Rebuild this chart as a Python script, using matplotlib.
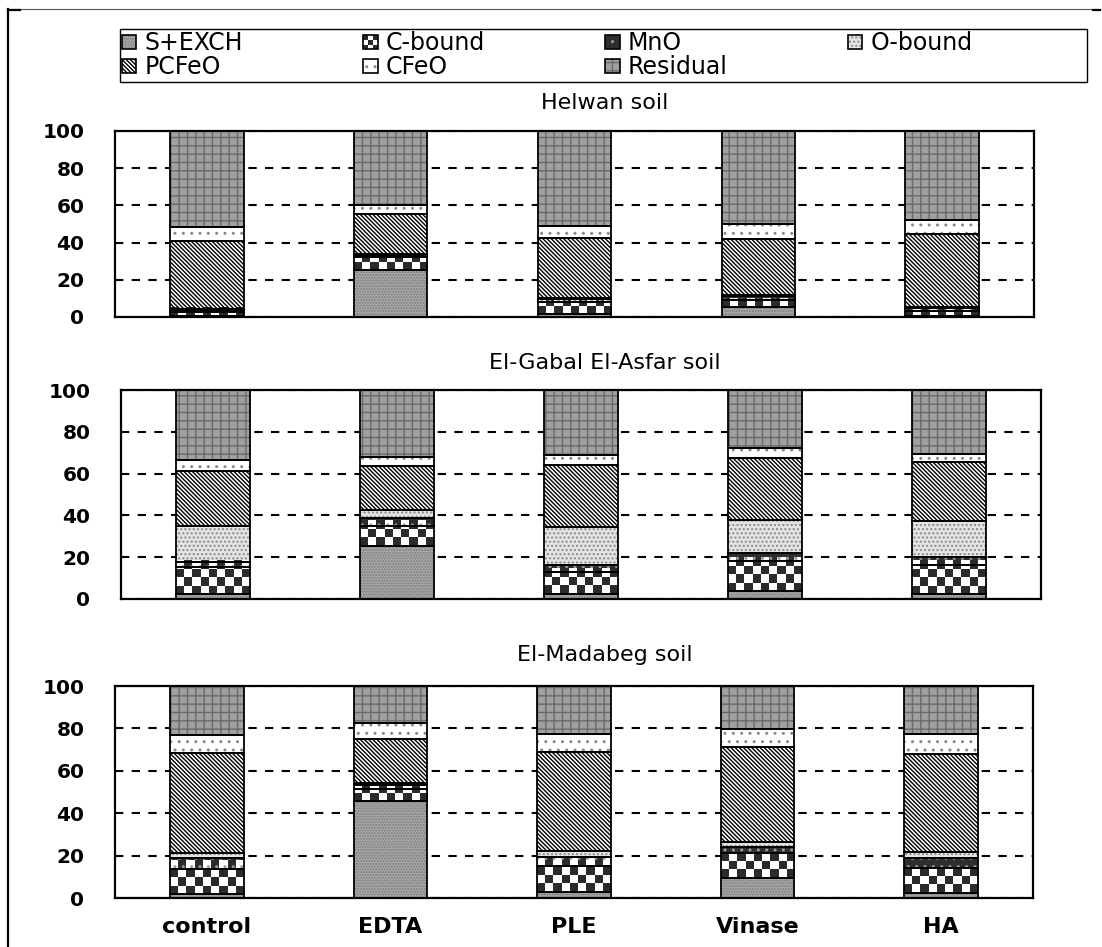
import numpy as np
import matplotlib
matplotlib.use('Agg')
import matplotlib.pyplot as plt
from matplotlib.patches import Patch, Rectangle
from matplotlib.colors import ListedColormap
from matplotlib.legend_handler import HandlerTuple, HandlerBase
from matplotlib.lines import Line2D

plt.rcParams['hatch.linewidth'] = 1.0
plt.rcParams['font.family'] = ['DejaVu Sans']

W, H = 1102, 947

treatments = ['control', 'EDTA', 'PLE', 'Vinase', 'HA']
fractions = ['S+EXCH', 'C-bound', 'MnO', 'O-bound', 'PCFeO', 'CFeO', 'Residual']
soil_titles = ['Helwan soil', 'El-Gabal El-Asfar soil', 'El-Madabeg soil']

# Helwan soil (%)
helwan_sexch = [0.5, 25.0, 1.5, 5.4, 0.8]
helwan_cbound = [2.0, 7.3, 6.3, 3.6, 2.2]
helwan_mno = [1.5, 1.2, 1.8, 2.1, 2.0]
helwan_obound = [0.5, 0.5, 0.4, 0.5, 0.5]
helwan_pcfeo = [36.5, 21.2, 32.7, 30.5, 39.3]
helwan_cfeo = [7.5, 4.8, 6.0, 8.1, 7.2]
helwan_residual = [51.5, 40.0, 51.3, 49.8, 48.0]

# El-Gabal El-Asfar soil (%)
gabal_sexch = [2.4, 25.5, 2.4, 4.0, 2.4]
gabal_cbound = [12.8, 9.4, 10.4, 14.3, 13.9]
gabal_mno = [2.7, 3.7, 3.5, 3.9, 4.0]
gabal_obound = [17.0, 4.0, 18.0, 15.6, 17.2]
gabal_pcfeo = [26.3, 21.0, 29.8, 29.8, 27.9]
gabal_cfeo = [5.3, 4.5, 4.8, 4.8, 4.0]
gabal_residual = [33.5, 31.9, 31.1, 27.6, 30.6]

# El-Madabeg soil (%)
madabeg_sexch = [1.7, 45.8, 2.8, 9.6, 2.5]
madabeg_cbound = [12.1, 5.8, 12.1, 11.6, 11.7]
madabeg_mno = [5.1, 1.5, 4.4, 2.9, 4.8]
madabeg_obound = [2.3, 1.1, 2.9, 2.3, 2.7]
madabeg_pcfeo = [47.2, 21.0, 46.7, 44.8, 46.4]
madabeg_cfeo = [8.6, 7.5, 8.6, 8.7, 9.4]
madabeg_residual = [23.0, 17.3, 22.5, 20.1, 22.5]

soils = [
    [helwan_sexch, helwan_cbound, helwan_mno, helwan_obound, helwan_pcfeo, helwan_cfeo, helwan_residual],
    [gabal_sexch, gabal_cbound, gabal_mno, gabal_obound, gabal_pcfeo, gabal_cfeo, gabal_residual],
    [madabeg_sexch, madabeg_cbound, madabeg_mno, madabeg_obound, madabeg_pcfeo, madabeg_cfeo, madabeg_residual],
]

# (facecolor, hatch, hatchcolor) per fraction; None hatch -> checker image
styles = [
    ('#a8a8a8', '......', '#7c7c7c'),
    ('white', None, None),
    ('#2e2e2e', '..', '#9a9a9a'),
    ('#e4e4e4', '....', '#8a8a8a'),
    ('white', '\\' * 8, 'black'),
    ('white', '..', '#8a8a8a'),
    ('#a0a0a0', '++', '#6a6a6a'),
]

axes_pos = [
    [115 / W, 1 - 317 / H, 919 / W, 186 / H],
    [121 / W, 1 - 599 / H, 920 / W, 209 / H],
    [115 / W, 1 - 898 / H, 918 / W, 212 / H],
]
title_y = [103, 363, 655]

fig = plt.figure(figsize=(W / 100, H / 100), dpi=100)
x = np.arange(len(treatments))
bw = 0.4
cmap_chk = ListedColormap(['#2b2b2b', 'white'])


def checker_fill(ax, patches, cell_px=8.5):
    pos = ax.get_position()
    px_x = pos.width * W / 5.0
    px_y = pos.height * H / 100.0
    for p in patches:
        x0, y0 = p.get_x(), p.get_y()
        w, h = p.get_width(), p.get_height()
        nx = max(1, int(round(w * px_x / cell_px)))
        ny = max(1, int(np.ceil(h * px_y / cell_px)))
        grid = np.indices((ny, nx)).sum(axis=0) % 2
        ax.imshow(grid, cmap=cmap_chk, extent=(x0, x0 + w, y0, y0 + ny * cell_px / px_y),
                  origin='lower', interpolation='nearest', aspect='auto',
                  clip_path=p, zorder=3)


for k, data in enumerate(soils):
    ax = fig.add_axes(axes_pos[k])
    bottom = np.zeros(len(treatments))
    for j, vals in enumerate(data):
        fc, hatch, hc = styles[j]
        vals = np.array(vals)
        bars = ax.bar(x, vals, bw, bottom=bottom, color=fc, linewidth=0, zorder=2)
        if hatch is None:
            checker_fill(ax, bars.patches)
        else:
            ax.bar(x, vals, bw, bottom=bottom, color='none', edgecolor=hc,
                   hatch=hatch, linewidth=0, zorder=3)
        ax.bar(x, vals, bw, bottom=bottom, fill=False, edgecolor='black',
               linewidth=1.3, zorder=4)
        bottom += vals
    ax.set_xlim(-0.5, 4.5)
    ax.set_ylim(0, 100)
    ax.set_yticks([0, 20, 40, 60, 80, 100])
    ax.set_yticklabels(['0', '20', '40', '60', '80', '100'], fontweight='bold', fontsize=14.5)
    ax.yaxis.grid(True, color='black', linestyle=(0, (4, 4)), linewidth=1.5)
    ax.set_axisbelow(True)
    ax.tick_params(axis='y', length=0, pad=22)
    for s in ax.spines.values():
        s.set_linewidth(1.6)
    if k == 2:
        ax.set_xticks(x)
        ax.set_xticklabels(treatments, fontweight='bold', fontsize=16)
        ax.tick_params(axis='x', length=0, pad=14)
    else:
        ax.set_xticks([])
    fig.text(605 / W, 1 - title_y[k] / H, soil_titles[k], ha='center', va='center', fontsize=16)


class CheckerKey:
    pass


class CheckerHandler(HandlerBase):
    def create_artists(self, legend, orig_handle, xdescent, ydescent, width, height, fontsize, trans):
        arts = []
        n = 3
        for i in range(n):
            for j in range(n):
                c = '#2b2b2b' if (i + j) % 2 == 0 else 'white'
                arts.append(Rectangle((-xdescent + i * width / n, -ydescent + j * height / n),
                                      width / n, height / n, facecolor=c, edgecolor='none', transform=trans))
        arts.append(Rectangle((-xdescent, -ydescent), width, height, fill=False,
                              edgecolor='black', linewidth=1.2, transform=trans))
        return arts


handles = []
for j, name in enumerate(fractions):
    fc, hatch, hc = styles[j]
    if hatch is None:
        handles.append(CheckerKey())
    else:
        handles.append((Patch(facecolor=fc, linewidth=0),
                        Patch(facecolor='none', edgecolor=hc, hatch=hatch, linewidth=0),
                        Patch(fill=False, edgecolor='black', linewidth=1.2)))

# legend frame drawn separately so the columns can sit closer together
fig.add_artist(Rectangle((120 / W, 1 - 82 / H), 967 / W, 53 / H, transform=fig.transFigure,
                         fill=False, edgecolor='black', linewidth=1.0))
order = [0, 4, 1, 5, 2, 6, 3]
leg = fig.legend([handles[i] for i in order], [fractions[i] for i in order],
                 loc='center left', bbox_to_anchor=(122 / W, 1 - 55.5 / H),
                 ncol=4, frameon=False, borderaxespad=0, borderpad=0,
                 handlelength=0.6, handleheight=0.55, handletextpad=0.35,
                 labelspacing=0.0, columnspacing=5.1, fontsize=17,
                 handler_map={tuple: HandlerTuple(ndivide=1, pad=0), CheckerKey: CheckerHandler()})

# outer frame
fig.add_artist(Line2D([8 / W, 8 / W], [0, 1 - 9 / H], color='black', linewidth=1.6))
fig.add_artist(Line2D([8 / W, 1097 / W], [1 - 9 / H, 1 - 9 / H], color='#555555', linewidth=0.8))
fig.add_artist(Line2D([8 / W, 20 / W], [1 - 10 / H, 1 - 10 / H], color='black', linewidth=1.6))
fig.add_artist(Line2D([1093 / W, 1100 / W], [1 - 10 / H, 1 - 10 / H], color='black', linewidth=1.6))

fig.savefig('out.png', dpi=100)
